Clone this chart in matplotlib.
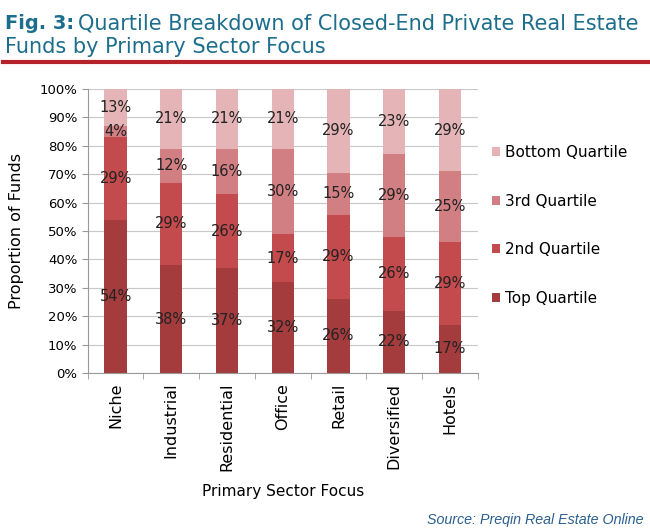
import numpy as np
import matplotlib.pyplot as plt
from matplotlib.ticker import PercentFormatter

sectors = ["Niche", "Industrial", "Residential", "Office", "Retail", "Diversified", "Hotels"]
top_q = [54, 38, 37, 32, 26.2, 22, 17]
second_q = [29, 29, 26, 17, 29.4, 26, 29]
third_q = [4, 12, 16, 30, 15, 29, 25]
bottom_q = [13, 21, 21, 21, 29.4, 23, 29]

series = [
    ("Top Quartile", top_q, "#a43c3e"),
    ("2nd Quartile", second_q, "#c34a4d"),
    ("3rd Quartile", third_q, "#d27f83"),
    ("Bottom Quartile", bottom_q, "#e4b4b6"),
]

plt.rcParams["font.family"] = ["DejaVu Sans"]

fig = plt.figure(figsize=(6.5, 5.3), dpi=100)
ax = fig.add_axes([0.135, 0.296, 0.6, 0.536])

x = np.arange(len(sectors))
bottom = np.zeros(len(sectors))
handles = []
for name, vals, col in series:
    vals = np.array(vals, dtype=float)
    h = ax.bar(x, vals, width=0.4, bottom=bottom, color=col, label=name, zorder=2)
    handles.append(h)
    for xi, b, v in zip(x, bottom, vals):
        ax.text(xi, b + v / 2, f"{v:.0f}%", ha="center", va="center",
                fontsize=10.5, color="#222222", zorder=3)
    bottom += vals

ax.set_xlim(-0.5, len(sectors) - 0.5)
ax.set_ylim(0, 100)
ax.set_yticks(np.arange(0, 101, 10))
ax.yaxis.set_major_formatter(PercentFormatter(decimals=0))
ax.yaxis.grid(True, color="#c8c8c8", linewidth=0.8, zorder=0)
ax.set_axisbelow(True)

ax.set_xticks(x)
ax.set_xticklabels(sectors, rotation=90, fontsize=11.5)
ax.set_xticks(np.arange(-0.5, len(sectors)), minor=True)
ax.tick_params(axis="x", which="major", length=0, pad=7)
ax.tick_params(axis="x", which="minor", length=4, color="#999999")
ax.tick_params(axis="y", length=4, color="#999999", labelsize=9.5)

for side in ["top", "right"]:
    ax.spines[side].set_visible(False)
for side in ["left", "bottom"]:
    ax.spines[side].set_color("#999999")

ax.set_ylabel("Proportion of Funds", fontsize=11.5, labelpad=11)
ax.set_xlabel("Primary Sector Focus", fontsize=11, labelpad=9)

ax.legend(handles[::-1], [s[0] for s in series][::-1], loc="center left",
          bbox_to_anchor=(1.0, 0.52), frameon=False, fontsize=11,
          handlelength=0.55, handleheight=0.55, handletextpad=0.35, labelspacing=2.2)

title_color = "#1d6e8c"
t1 = fig.text(0.008, 0.945, "Fig. 3:", fontsize=14, fontweight="bold", color=title_color)
fig.canvas.draw()
bb = t1.get_window_extent().transformed(fig.transFigure.inverted())
fig.text(bb.x1 + 0.006, 0.945, "Quartile Breakdown of Closed-End Private Real Estate",
         fontsize=15, color=title_color)
fig.text(0.008, 0.900, "Funds by Primary Sector Focus", fontsize=15, color=title_color)
fig.add_artist(plt.Line2D([0.005, 0.997], [0.883, 0.883], color="#b5222a", linewidth=3))

fig.text(0.99, 0.012, "Source: Preqin Real Estate Online", ha="right", fontsize=10.3,
         style="italic", color="#2a5f8f", family=["Liberation Sans", "DejaVu Sans"])

fig.savefig("out.png", dpi=100)
